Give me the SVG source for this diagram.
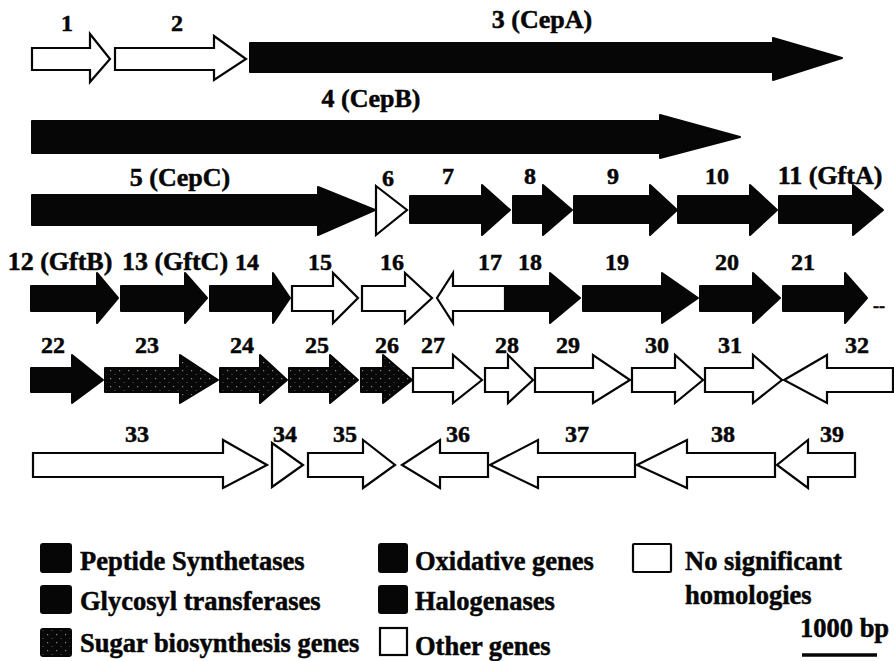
<svg xmlns="http://www.w3.org/2000/svg" width="894" height="661" viewBox="0 0 894 661">
  <style>
    .blk { fill: #060606; stroke: #060606; stroke-width: 2; stroke-linejoin: round; }
    .wht { fill: #ffffff; stroke: #060606; stroke-width: 2.2; stroke-linejoin: miter; }
    .sug { fill: url(#stipple); stroke: #060606; stroke-width: 2; stroke-linejoin: round; }
    text { font-family: "Liberation Serif", "Times New Roman", serif; font-weight: bold; fill: #060606; stroke: #060606; stroke-width: 0.5; }
    .lbl { font-size: 24px; text-anchor: middle; }
    .big { font-size: 26px; text-anchor: middle; }
    .leg { font-size: 26.5px; }
  </style>
  <defs>
    <!-- sparse light speckles on a near-black ground -->
    <pattern id="stipple" width="9" height="8" patternUnits="userSpaceOnUse">
      <rect width="9" height="8" fill="#080808"/>
      <rect x="2" y="2" width="1.2" height="1.2" fill="#8a8a8a"/>
      <rect x="6.5" y="6" width="1" height="1" fill="#5a5a5a"/>
    </pattern>
  </defs>

  <!-- row 1 -->
  <g id="g1"><path class="wht" d="M32,48 H90 V34 L110,59 L90,82 V70 H32 Z"/><text class="lbl" x="67" y="31">1</text></g>
  <g id="g2"><path class="wht" d="M115,48 H214 V36 L246,59 L214,80 V70 H115 Z"/><text class="lbl" x="177" y="31">2</text></g>
  <g id="g3"><path class="blk" d="M250,43 H773 V38 L842,58 L773,80 V72 H250 Z"/><text class="big" x="542" y="28">3 (CepA)</text></g>

  <!-- row 2 -->
  <g id="g4"><path class="blk" d="M32,121 H660 V115 L740,137 L660,158 V153 H32 Z"/><text class="big" x="371" y="107">4 (CepB)</text></g>

  <!-- row 3 -->
  <g id="g5"><path class="blk" d="M32,195 H318 V187 L375,210 L318,235 V225 H32 Z"/><text class="big" x="180" y="186">5 (CepC)</text></g>
  <g id="g6"><path class="wht" d="M376,186 L407,210 L376,235 Z"/><text class="lbl" x="388" y="186">6</text></g>
  <g id="g7"><path class="blk" d="M410,196 H482 V185 L510,210 L482,235 V223 H410 Z"/><text class="lbl" x="448" y="184">7</text></g>
  <g id="g8"><path class="blk" d="M513,196 H543 V185 L572,210 L543,235 V223 H513 Z"/><text class="lbl" x="530" y="184">8</text></g>
  <g id="g9"><path class="blk" d="M574,196 H650 V185 L677,210 L650,235 V223 H574 Z"/><text class="lbl" x="613" y="184">9</text></g>
  <g id="g10"><path class="blk" d="M678,196 H750 V185 L777,210 L750,235 V223 H678 Z"/><text class="lbl" x="717" y="184">10</text></g>
  <g id="g11"><path class="blk" d="M779,196 H853 V185 L883,210 L853,235 V223 H779 Z"/><text class="big" x="830" y="184">11 (GftA)</text></g>

  <!-- row 4 -->
  <g id="g12"><path class="blk" d="M31,286 H97 V273 L118,298 L97,323 V311 H31 Z"/><text class="big" x="60" y="270">12 (GftB)</text></g>
  <g id="g13"><path class="blk" d="M121,286 H185 V273 L207,298 L185,323 V311 H121 Z"/><text class="big" x="175" y="270">13 (GftC)</text></g>
  <g id="g14"><path class="blk" d="M210,286 H273 V273 L290,298 L273,323 V311 H210 Z"/><text class="lbl" x="247" y="270">14</text></g>
  <g id="g15"><path class="wht" d="M292,286 H333 V273 L358,298 L333,323 V311 H292 Z"/><text class="lbl" x="320" y="270">15</text></g>
  <g id="g16"><path class="wht" d="M362,286 H405 V273 L432,298 L405,323 V311 H362 Z"/><text class="lbl" x="392" y="270">16</text></g>
  <g id="g17"><path class="wht" d="M505,286 H453 V273 L437,298 L453,323 V311 H505 Z"/><text class="lbl" x="490" y="270">17</text></g>
  <g id="g18"><path class="blk" d="M506,286 H550 V273 L580,298 L550,323 V311 H506 Z"/><text class="lbl" x="530" y="270">18</text></g>
  <g id="g19"><path class="blk" d="M583,286 H662 V273 L698,298 L662,323 V311 H583 Z"/><text class="lbl" x="617" y="270">19</text></g>
  <g id="g20"><path class="blk" d="M700,286 H753 V273 L780,298 L753,323 V311 H700 Z"/><text class="lbl" x="727" y="270">20</text></g>
  <g id="g21"><path class="blk" d="M783,286 H845 V273 L867,298 L845,323 V311 H783 Z"/><text class="lbl" x="803" y="270">21</text></g>
  <g id="cont"><text class="lbl" x="879" y="312" style="font-size:18px">--</text></g>

  <!-- row 5 -->
  <g id="g22"><path class="blk" d="M31,368 H72 V355 L103,380 L72,403 V392 H31 Z"/><text class="lbl" x="53" y="353">22</text></g>
  <g id="g23"><path class="sug" d="M105,368 H180 V355 L218,380 L180,403 V392 H105 Z"/><text class="lbl" x="147" y="353">23</text></g>
  <g id="g24"><path class="sug" d="M220,368 H260 V355 L287,380 L260,403 V392 H220 Z"/><text class="lbl" x="242" y="353">24</text></g>
  <g id="g25"><path class="sug" d="M289,368 H330 V355 L358,380 L330,403 V392 H289 Z"/><text class="lbl" x="317" y="353">25</text></g>
  <g id="g26"><path class="sug" d="M361,368 H383 V355 L412,380 L383,403 V392 H361 Z"/><text class="lbl" x="387" y="353">26</text></g>
  <g id="g27"><path class="wht" d="M413,368 H453 V355 L482,380 L453,403 V392 H413 Z"/><text class="lbl" x="433" y="353">27</text></g>
  <g id="g28"><path class="wht" d="M485,368 H508 V355 L533,380 L508,403 V392 H485 Z"/><text class="lbl" x="507" y="353">28</text></g>
  <g id="g29"><path class="wht" d="M535,368 H593 V355 L630,380 L593,403 V392 H535 Z"/><text class="lbl" x="568" y="353">29</text></g>
  <g id="g30"><path class="wht" d="M632,368 H675 V355 L703,380 L675,403 V392 H632 Z"/><text class="lbl" x="657" y="353">30</text></g>
  <g id="g31"><path class="wht" d="M705,368 H753 V355 L782,380 L753,403 V392 H705 Z"/><text class="lbl" x="730" y="353">31</text></g>
  <g id="g32"><path class="wht" d="M893,368 H827 V355 L784,380 L827,403 V392 H893 Z"/><text class="lbl" x="857" y="353">32</text></g>

  <!-- row 6 -->
  <g id="g33"><path class="wht" d="M33,453 H223 V440 L267,465 L223,488 V477 H33 Z"/><text class="lbl" x="137" y="442">33</text></g>
  <g id="g34"><path class="wht" d="M272,443 L303,465 L272,487 Z"/><text class="lbl" x="285" y="442">34</text></g>
  <g id="g35"><path class="wht" d="M308,453 H363 V440 L395,465 L363,488 V477 H308 Z"/><text class="lbl" x="345" y="442">35</text></g>
  <g id="g36"><path class="wht" d="M488,453 H440 V440 L402,465 L440,488 V477 H488 Z"/><text class="lbl" x="458" y="442">36</text></g>
  <g id="g37"><path class="wht" d="M635,453 H538 V440 L490,465 L538,488 V477 H635 Z"/><text class="lbl" x="577" y="442">37</text></g>
  <g id="g38"><path class="wht" d="M775,453 H687 V440 L637,465 L687,488 V477 H775 Z"/><text class="lbl" x="723" y="442">38</text></g>
  <g id="g39"><path class="wht" d="M855,453 H808 V440 L777,465 L808,488 V477 H855 Z"/><text class="lbl" x="832" y="442">39</text></g>

  <!-- legend -->
  <g id="legend">
    <rect class="blk" x="41" y="544" width="30" height="28" rx="2"/>
    <text class="leg" x="80" y="570">Peptide Synthetases</text>
    <rect class="blk" x="41" y="586" width="30" height="27" rx="2"/>
    <text class="leg" x="80" y="610">Glycosyl transferases</text>
    <rect class="sug" x="41" y="629" width="30" height="27" rx="2"/>
    <text class="leg" x="80" y="652">Sugar biosynthesis genes</text>

    <rect class="blk" x="379" y="544" width="28" height="28" rx="2"/>
    <text class="leg" x="415" y="570">Oxidative genes</text>
    <rect class="blk" x="379" y="586" width="28" height="27" rx="2"/>
    <text class="leg" x="415" y="610">Halogenases</text>
    <rect class="wht" x="380" y="628" width="27" height="27"/>
    <text class="leg" x="415" y="655">Other genes</text>

    <rect class="wht" x="633" y="544" width="38" height="28" rx="1"/>
    <text class="leg" x="685" y="570">No significant</text>
    <text class="leg" x="685" y="604">homologies</text>

    <text class="leg" x="800" y="637">1000 bp</text>
    <line x1="802" y1="655" x2="877" y2="655" stroke="#060606" stroke-width="3.5"/>
  </g>
</svg>
